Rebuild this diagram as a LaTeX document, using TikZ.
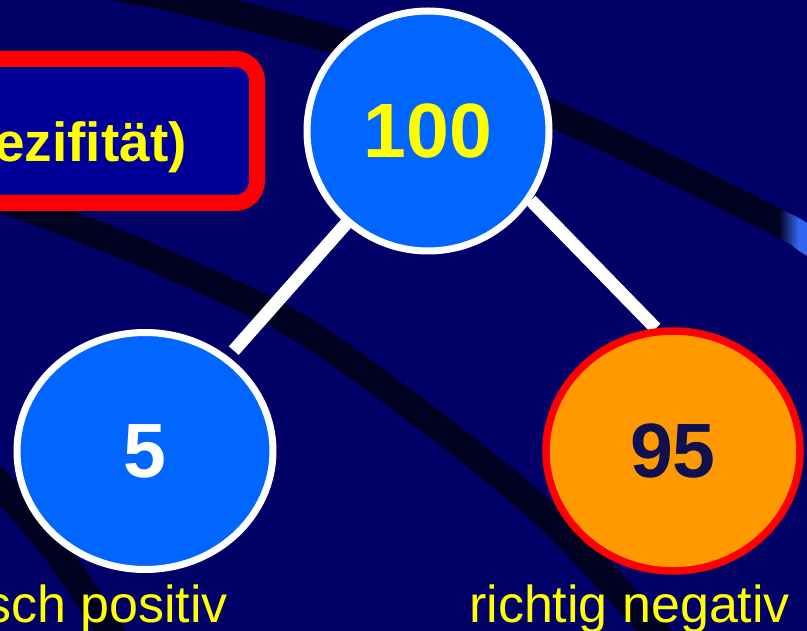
\documentclass[tikz,border=0pt]{standalone}
\usepackage{fontspec}
\setmainfont{Liberation Sans}
\usetikzlibrary{shapes.geometric}
\definecolor{bgnavy}{HTML}{000066}
\definecolor{arcdark}{HTML}{000020}
\definecolor{arcblue}{HTML}{3366F0}
\definecolor{boxblue}{HTML}{000099}
\definecolor{bluec}{HTML}{0066FF}
\definecolor{orangec}{HTML}{FF9900}
\definecolor{textnavy}{HTML}{101050}
\definecolor{yel}{HTML}{FFFF00}
\pgfdeclarelayer{back}
\pgfsetlayers{back,main}
\begin{document}
\begin{tikzpicture}[x=1pt,y=-1pt,
  bubble/.style={ellipse, line width=7pt, inner sep=0pt, font=\fontsize{77}{80}\selectfont\bfseries},
  link/.style={draw=white, line width=13pt},
  band/.style={draw=arcdark, line width=27pt},
  lbl/.style={text=yel, font=\fontsize{52}{56}\selectfont, inner sep=0pt}]
\useasboundingbox (0,0) rectangle (807,631);
\def\arcone{plot[smooth] coordinates {(100,-15) (180,0) (350,45) (552,114) (773,220) (807,240) (840,262)}}
\begin{pgfonlayer}{back}
  \fill[bgnavy] (-10,-10) rectangle (817,641);
  \draw[band] \arcone;
  \foreach \i in {0,...,10} {
    \pgfmathsetmacro\pct{\i*10}
    \begin{scope}
      \clip (778+2*\i,0) rectangle (780.3+2*\i,400);
      \draw[band, draw=arcblue!\pct!arcdark] \arcone;
    \end{scope}
  }
  \begin{scope}
    \clip (800,0) rectangle (812,400);
    \draw[band, draw=arcblue] \arcone;
  \end{scope}
  \draw[band] plot[smooth] coordinates {(-60,178) (48,216) (160,261) (300,328) (450,436) (550,519) (655,631) (690,672)};
  \draw[band] plot[smooth] coordinates {(-40,445) (0,485) (55,550) (110,631) (130,665)};
  \draw[draw=red, fill=boxblue, line width=16pt, rounded corners=22pt] (-300,59) rectangle (257,203);
\end{pgfonlayer}
\node[anchor=base east, text=yel, font=\fontsize{55}{58}\selectfont\bfseries, inner sep=0pt] (spec) at (187,162) {ezifität)};
\node[bubble, fill=bluec, draw=white, text=yel, minimum width=242pt, minimum height=240pt] (n100) at (428,131) {100};
\node[bubble, fill=bluec, draw=white, text=white, minimum width=256pt, minimum height=237pt] (n5) at (145,451) {5};
\node[bubble, fill=orangec, draw=red, line width=7.5pt, text=textnavy, minimum width=254pt, minimum height=240pt] (n95) at (673,451) {95};
\begin{pgfonlayer}{back}
  \draw[link, shorten >=134pt] (n100.center) -- (n5.center);
  \draw[link] (n100.-34.5) -- (n95.98);
\end{pgfonlayer}
\node[lbl, anchor=base east] (lfp) at (228,622) {sch positiv};
\node[lbl, anchor=base west] (lrn) at (469,622) {richtig negativ};
\end{tikzpicture}
\end{document}
